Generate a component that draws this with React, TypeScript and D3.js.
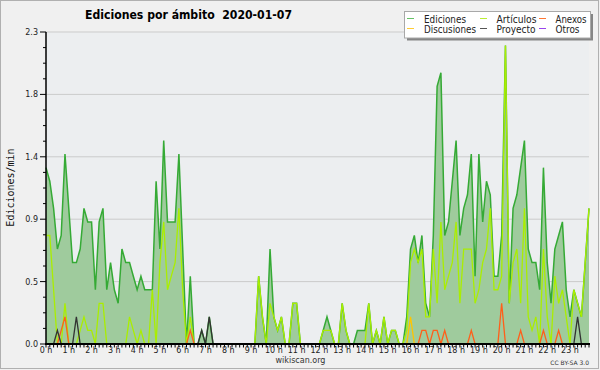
import React from 'react';
import * as d3 from 'd3';

// edits per minute, one value per 10 minutes (0:00 .. 23:50)
const ediciones: number[] = [
  1.3, 1.2, 1.0, 0.7, 0.8, 1.4, 1.0, 0.6, 0.6, 0.7, 1.0, 0.9,
  0.9, 0.4, 0.9, 1.0, 0.4, 0.6, 0.4, 0.3, 0.7, 0.6, 0.6, 0.5,
  0.4, 0.5, 0.4, 0.4, 0.4, 1.2, 0.7, 1.5, 0.9, 0.9, 0.9, 1.4,
  0.7, 0, 0.5, 0, 0, 0.1, 0, 0.2, 0, 0, 0, 0,
  0, 0, 0, 0, 0, 0, 0, 0, 0.5, 0.2, 0, 0.7,
  0.2, 0.1, 0.2, 0, 0, 0.3, 0.3, 0, 0, 0, 0, 0,
  0, 0.1, 0.2, 0.1, 0, 0, 0.3, 0.1, 0, 0, 0.1, 0.1,
  0.1, 0.3, 0, 0.1, 0, 0.2, 0, 0.1, 0.1, 0, 0, 0.2,
  0.7, 0.8, 0.6, 0.8, 0.3, 0.2, 0.8, 1.9, 2.0, 0.8, 0.9, 1.2,
  1.5, 0.8, 1.0, 1.1, 1.4, 0.5, 1.4, 0.9, 1.2, 1.1, 0.5, 0.5,
  0.8, 2.2, 0.3, 1.0, 1.1, 1.3, 1.5, 0.7, 0.6, 0.6, 0.4, 1.3,
  0.6, 0.3, 0.7, 0.8, 0.9, 0.4, 0.2, 0.4, 0.3, 0.2, 0.6, 1.0,
];

const articulos: number[] = [
  0.8, 0.8, 0.4, 0, 0, 0.3, 0, 0, 0, 0.1, 0.2, 0.1,
  0.1, 0, 0.3, 0.3, 0, 0, 0, 0, 0, 0, 0.2, 0.1,
  0, 0.1, 0, 0, 0.4, 0, 0.6, 0.9, 0.4, 0.5, 0.6, 1.0,
  0.4, 0, 0.2, 0, 0, 0, 0, 0, 0, 0, 0, 0,
  0, 0, 0, 0, 0, 0, 0, 0, 0.5, 0.2, 0, 0.3,
  0.2, 0.1, 0.2, 0, 0, 0.3, 0.3, 0, 0, 0, 0, 0,
  0, 0.1, 0.1, 0.1, 0, 0, 0.3, 0.1, 0, 0, 0, 0,
  0, 0.3, 0, 0.1, 0, 0.2, 0, 0.1, 0.1, 0, 0, 0.1,
  0.6, 0.7, 0.6, 0.7, 0.2, 0.2, 0.7, 0.3, 0.9, 0.4, 0.5, 0.6,
  0.9, 0.3, 0.7, 0.7, 0.7, 0.3, 0.4, 0.6, 0.7, 1.0, 0.4, 0.4,
  0.5, 2.2, 0.3, 0.6, 0.7, 0.3, 1.0, 0.2, 0.1, 0.2, 0, 0.7,
  0.2, 0, 0.5, 0.3, 0.4, 0.2, 0, 0.4, 0.3, 0.2, 0.6, 1.0,
];

const discusiones: number[] = [
  0, 0, 0, 0, 0, 0, 0, 0, 0, 0, 0, 0,
  0, 0, 0, 0, 0, 0, 0, 0, 0, 0, 0, 0,
  0, 0, 0, 0, 0, 0, 0, 0, 0, 0, 0, 0,
  0, 0, 0, 0, 0, 0, 0, 0, 0, 0, 0, 0,
  0, 0, 0, 0, 0, 0, 0, 0, 0, 0, 0, 0,
  0, 0, 0, 0, 0, 0, 0, 0, 0, 0, 0, 0,
  0, 0, 0, 0, 0, 0, 0, 0, 0, 0, 0, 0,
  0, 0, 0, 0, 0, 0, 0, 0, 0, 0, 0, 0,
  0.2, 0, 0, 0, 0, 0, 0, 0, 0, 0, 0, 0,
  0, 0, 0, 0, 0, 0, 0, 0, 0, 0, 0, 0,
  0, 0, 0, 0, 0, 0, 0, 0, 0, 0, 0, 0,
  0, 0, 0, 0, 0, 0, 0, 0, 0, 0, 0, 0,
];

const anexos: number[] = [
  0, 0, 0, 0, 0.1, 0.2, 0, 0, 0, 0, 0, 0,
  0, 0, 0, 0, 0, 0, 0, 0, 0, 0, 0, 0,
  0, 0, 0, 0, 0, 0, 0, 0, 0, 0, 0, 0,
  0, 0, 0.1, 0, 0, 0, 0, 0, 0, 0, 0, 0,
  0, 0, 0, 0, 0, 0, 0, 0, 0, 0, 0, 0,
  0, 0, 0, 0, 0, 0, 0, 0, 0, 0, 0, 0,
  0, 0, 0, 0, 0, 0, 0, 0, 0, 0, 0, 0,
  0, 0, 0, 0, 0, 0, 0, 0, 0, 0, 0, 0,
  0, 0, 0, 0.1, 0.1, 0, 0.1, 0.1, 0, 0.1, 0, 0,
  0, 0, 0, 0, 0.1, 0, 0, 0, 0, 0, 0, 0,
  0.3, 0, 0, 0, 0, 0.1, 0, 0, 0, 0, 0, 0.1,
  0, 0, 0, 0.1, 0, 0, 0, 0, 0, 0, 0, 0,
];

const proyecto: number[] = [
  0, 0, 0, 0.1, 0, 0, 0, 0, 0.2, 0, 0, 0,
  0, 0, 0, 0, 0, 0, 0, 0, 0, 0, 0, 0,
  0, 0, 0, 0, 0, 0, 0, 0, 0, 0, 0, 0,
  0, 0, 0, 0, 0, 0.1, 0, 0.2, 0, 0, 0, 0,
  0, 0, 0, 0, 0, 0, 0, 0, 0, 0, 0, 0,
  0, 0, 0, 0, 0, 0, 0, 0, 0, 0, 0, 0,
  0, 0, 0, 0, 0, 0, 0, 0, 0, 0, 0, 0,
  0, 0, 0, 0, 0, 0, 0, 0, 0, 0, 0, 0,
  0, 0, 0, 0, 0, 0, 0, 0, 0, 0, 0, 0,
  0, 0, 0, 0, 0, 0, 0, 0, 0, 0, 0, 0,
  0, 0, 0, 0, 0, 0, 0, 0, 0, 0, 0, 0,
  0, 0, 0, 0, 0, 0, 0, 0, 0.2, 0, 0, 0,
];

const hourLabels = [
  '0 h', '1 h', '2 h', '3 h', '4 h', '5 h', '6 h', '7 h', '8 h', '9 h', '10 h', '11 h',
  '12 h', '13 h', '14 h', '15 h', '16 h', '17 h', '18 h', '19 h', '20 h', '21 h', '22 h', '23 h',
];
const yTicks = [0, 0.46, 0.92, 1.38, 1.84, 2.3];

const legend = [
  { name: 'Ediciones', color: '#66c266', col: 0, row: 0, w: 42 },
  { name: 'Artículos', color: '#bbee33', col: 1, row: 0, w: 40 },
  { name: 'Anexos', color: '#ff7733', col: 2, row: 0, w: 31 },
  { name: 'Discusiones', color: '#ffcc33', col: 0, row: 1, w: 52 },
  { name: 'Proyecto', color: '#555555', col: 1, row: 1, w: 39 },
  { name: 'Otros', color: '#9944ee', col: 2, row: 1, w: 24 },
];

const left = 46;
const right = 589;
const top = 32;
const bottom = 344;

const App: React.FC = () => {
  const x = d3.scaleLinear([0, ediciones.length - 1], [left, right]);
  const y = d3.scaleLinear([0, 2.3], [bottom, top]);
  const line = d3.line<number>().x((_, i) => x(i)).y((d) => y(d));
  const area = d3.area<number>().x((_, i) => x(i)).y0(y(0)).y1((d) => y(d));
  const minorY = d3.range(0, 21).map((k) => (k * 2.3) / 20);
  const fmt = d3.format('.1f');

  const series = [
    { values: articulos, color: '#aaee00' },
    { values: discusiones, color: '#ffc400' },
    { values: anexos, color: '#ff5f1a' },
    { values: proyecto, color: '#333333' },
  ];

  const colX = [407, 480, 539];
  const textX = [424, 496.5, 555.5];
  const font = '"DejaVu Sans", sans-serif';

  return (
    <svg width={600} height={370} style={{ position: 'absolute', left: 0, top: 0 }} fontFamily={font}>
      <rect x={0} y={0} width={600} height={370} fill="#f0f0f0" />
      <rect x={0.5} y={0.5} width={598} height={368} fill="none" stroke="#b0b0b0" />
      <rect x={left} y={top} width={right - left} height={bottom - top} fill="#eceef0" />

      {yTicks.slice(1).map((t) => (
        <line key={t} x1={left} x2={right} y1={y(t)} y2={y(t)} stroke="#cbcbcb" strokeWidth={1} />
      ))}

      <path d={area(ediciones) || ''} fill="#9fcb9d" />
      <path d={line(ediciones) || ''} fill="none" stroke="#35aa35" strokeWidth={1.5} />
      {series.map((s, k) => (
        <path key={k} d={line(s.values) || ''} fill="none" stroke={s.color} strokeWidth={1.3} />
      ))}

      {/* y axis */}
      <line x1={left} x2={left} y1={top} y2={bottom + 1} stroke="#000" strokeWidth={1.5} />
      {minorY.map((t, k) => (
        <line key={k} x1={k % 4 === 0 ? left - 6 : left - 3} x2={left} y1={y(t)} y2={y(t)} stroke="#000" strokeWidth={1} />
      ))}
      {yTicks.map((t) => (
        <text key={t} x={38} y={y(t) + 3} fontSize={8} textAnchor="end" fill="#222">
          {fmt(t)}
        </text>
      ))}

      {/* x axis */}
      <line x1={left - 1} x2={right + 1} y1={bottom} y2={bottom} stroke="#000" strokeWidth={2} />
      {ediciones.map((_, i) => (
        <line key={i} x1={x(i)} x2={x(i)} y1={bottom} y2={bottom + 3.5} stroke="#000" strokeWidth={1} />
      ))}
      {hourLabels.map((h, k) => (
        <text key={h} x={x(k * 6)} y={353} fontSize={8} textAnchor="middle" fill="#222">
          {h}
        </text>
      ))}

      <text
        transform={`translate(13.5,187.5) rotate(-90)`}
        fontFamily='"DejaVu Sans Mono", monospace'
        fontSize={10}
        textAnchor="middle"
        fill="#111"
      >
        Ediciones/min
      </text>

      <text x={85} y={18.5} fontSize={12} fontWeight="bold" textLength={207} lengthAdjust="spacingAndGlyphs" style={{ whiteSpace: 'pre' }}>
        {'Ediciones por ámbito  2020-01-07'}
      </text>

      {/* legend */}
      <rect x={407} y={14} width={186} height={26.5} fill="#858585" />
      <rect x={404.5} y={11.5} width={186} height={26.5} fill="#ffffff" stroke="#a8a8a8" />
      {legend.map((l) => (
        <g key={l.name}>
          <line x1={colX[l.col]} x2={colX[l.col] + 7} y1={18.5 + l.row * 10} y2={18.5 + l.row * 10} stroke={l.color} strokeWidth={1} />
          <text x={textX[l.col]} y={22.5 + l.row * 10} fontSize={10} textLength={l.w} lengthAdjust="spacingAndGlyphs" fill="#222">
            {l.name}
          </text>
        </g>
      ))}

      <text x={300.5} y={363} fontSize={8} textAnchor="middle" fill="#333">
        wikiscan.org
      </text>
      <text x={589} y={365} fontSize={6} textAnchor="end" fill="#333">
        CC BY-SA 3.0
      </text>
    </svg>
  );
};

export default App;
